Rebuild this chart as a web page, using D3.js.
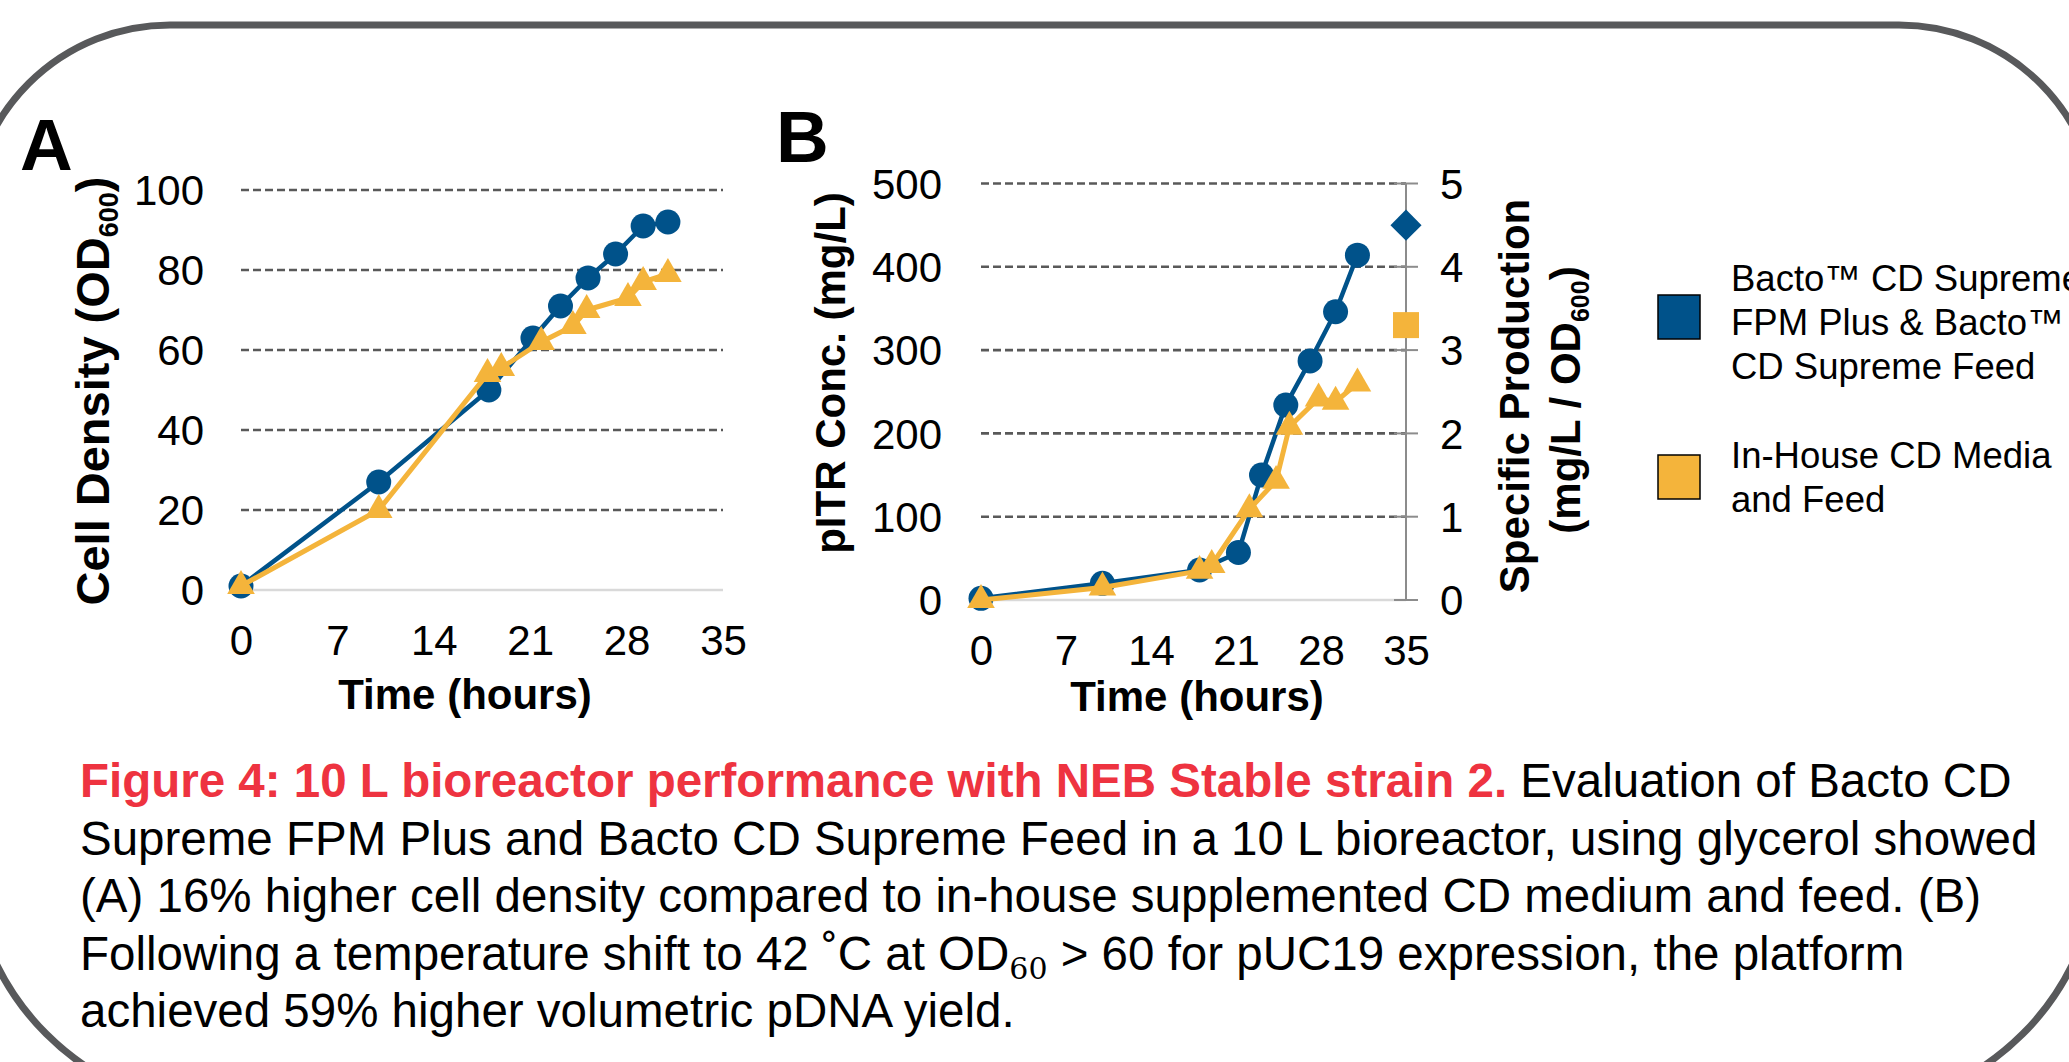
<!DOCTYPE html>
<html>
<head>
<meta charset="utf-8">
<script src="https://cdn.jsdelivr.net/npm/d3@7"></script>
<style>
  body { margin: 0; background: #fff; }
  svg { display: block; }
</style>
</head>
<body>
<svg id="fig" width="2069" height="1062"></svg>
<script>
// panel A - cell density (OD600) over time
const hoursA_bacto = [0, 10, 18, 21.2, 23.2, 25.2, 27.2, 29.2, 31];
const densityA_bacto = [1, 27, 50, 63, 71, 78, 84, 91, 92];
const hoursA_inhouse = [0, 10, 17.9, 18.9, 21.8, 24.1, 25.1, 28.1, 29.2, 31];
const densityA_inhouse = [1, 20, 54, 55.5, 62, 66, 70, 73, 77, 79];

// panel B - pITR concentration (mg/L) over time
const hoursB_bacto = [0, 10, 18, 21.2, 23.1, 25.1, 27.1, 29.2, 31];
const concB_bacto = [2, 20, 36, 57, 150, 234, 287, 346, 414];
const hoursB_inhouse = [0, 10, 18, 19, 22.1, 24.3, 25.4, 27.8, 29.2, 31];
const concB_inhouse = [0, 15, 35, 42, 109, 143, 208, 242, 238, 260];

// specific production at end of run, right axis of B
const specHour = 35;
const specProd = [4.5, 3.3]; // bacto, in-house

const seriesNames = [
  ["Bacto™ CD Supreme", "FPM Plus & Bacto™", "CD Supreme Feed"],
  ["In-House CD Media", "and Feed"]
];
const seriesColors = ["#00528a", "#f4b43b"];

const timeTicks = [0, 7, 14, 21, 28, 35];
const densityTicks = [0, 20, 40, 60, 80, 100];
const concTicks = [0, 100, 200, 300, 400, 500];
const specTicks = [0, 1, 2, 3, 4, 5];

const font = "'Liberation Sans', Arial, sans-serif";
const svg = d3.select("#fig").attr("font-family", font);

svg.append("rect").attr("width", 2069).attr("height", 1062).attr("fill", "#fff");

// rounded frame, runs off the page on both sides
const frame = d3.path();
frame.moveTo(170, 25);
frame.arcTo(2099, 25, 2099, 1110, 200);
frame.arcTo(2099, 1110, -30, 1110, 260);
frame.arcTo(-30, 1110, -30, 25, 260);
frame.arcTo(-30, 25, 2099, 25, 200);
frame.closePath();
svg.append("path").attr("d", frame.toString())
  .attr("fill", "none").attr("stroke", "#58595b").attr("stroke-width", 7);

function gridlines(x, y, ticks) {
  svg.append("g").selectAll("line")
    .data(ticks.filter(d => d > 0))
    .join("line")
    .attr("x1", x.range()[0]).attr("x2", x.range()[1])
    .attr("y1", d => y(d)).attr("y2", d => y(d))
    .attr("stroke", "#595959").attr("stroke-width", 2.6)
    .attr("stroke-dasharray", "8,4");
  svg.append("line")
    .attr("x1", x.range()[0]).attr("x2", x.range()[1])
    .attr("y1", y(0)).attr("y2", y(0))
    .attr("stroke", "#d9d9d9").attr("stroke-width", 2.5);
}

function cleanAxis(g) {
  g.attr("font-family", font).attr("font-size", 42);
  g.select(".domain").remove();
  g.selectAll(".tick line").remove();
  g.selectAll(".tick text").attr("fill", "#000");
}

function series(x, y, hours, vals, color, shape, width) {
  const pts = hours.map((h, i) => [x(h), y(vals[i])]);
  const g = svg.append("g");
  g.append("path").datum(pts)
    .attr("d", d3.line())
    .attr("fill", "none").attr("stroke", color)
    .attr("stroke-width", width).attr("stroke-linejoin", "round");
  if (shape === "circle") {
    g.selectAll("circle").data(pts).join("circle")
      .attr("cx", d => d[0]).attr("cy", d => d[1]).attr("r", 12.5)
      .attr("fill", color);
  } else {
    g.selectAll(".tri").data(pts).join("path")
      .attr("class", "tri")
      .attr("transform", d => `translate(${d[0]},${d[1]})`)
      .attr("d", d3.symbol(d3.symbolTriangle, 330))
      .attr("fill", color);
  }
}

function title(x, y, rotate, parts, size, sub) {
  const t = svg.append("text")
    .attr("transform", `translate(${x},${y})` + (rotate ? " rotate(-90)" : ""))
    .attr("text-anchor", "middle").attr("font-weight", "bold")
    .attr("font-size", size).attr("fill", "#000");
  t.append("tspan").text(parts[0]);
  if (parts.length > 1) {
    t.append("tspan").attr("font-size", sub).attr("dy", sub * 0.35).text(parts[1]);
    t.append("tspan").attr("dy", -sub * 0.35).text(parts[2]);
  }
}

// ---------- panel A ----------
const xA = d3.scaleLinear().domain([0, 35]).range([241, 723]);
const yA = d3.scaleLinear().domain([0, 100]).range([590, 190]);

gridlines(xA, yA, densityTicks);

svg.append("g").attr("transform", `translate(${xA(0)},0)`)
  .call(d3.axisLeft(yA).tickValues(densityTicks).tickSize(0).tickPadding(37))
  .call(cleanAxis)
  .selectAll(".tick text").attr("dy", "0.35em");

svg.append("g").attr("transform", `translate(0,${yA(0)})`)
  .call(d3.axisBottom(xA).tickValues(timeTicks).tickSize(0).tickPadding(35))
  .call(cleanAxis);

series(xA, yA, hoursA_bacto, densityA_bacto, seriesColors[0], "circle", 4.5);
series(xA, yA, hoursA_inhouse, densityA_inhouse, seriesColors[1], "triangle", 5);

title(465, 709, false, ["Time (hours)"], 42);
title(109, 391, true, ["Cell Density (OD", "600", ")"], 47, 27);

svg.append("text").attr("x", 20).attr("y", 170)
  .attr("font-size", 73).attr("font-weight", "bold").text("A");

// ---------- panel B ----------
const xB = d3.scaleLinear().domain([0, 35]).range([981, 1406]);
const yB = d3.scaleLinear().domain([0, 500]).range([600, 183.5]);
const yB2 = d3.scaleLinear().domain([0, 5]).range([600, 183.5]);

gridlines(xB, yB, concTicks);

// right axis line with crossing ticks
svg.append("line")
  .attr("x1", xB(35)).attr("x2", xB(35))
  .attr("y1", yB2(0)).attr("y2", yB2(5))
  .attr("stroke", "#8c8c8c").attr("stroke-width", 2);
svg.append("g").selectAll("line")
  .data(specTicks).join("line")
  .attr("x1", xB(35) - 12).attr("x2", xB(35) + 12)
  .attr("y1", d => yB2(d)).attr("y2", d => yB2(d))
  .attr("stroke", "#8c8c8c").attr("stroke-width", 2);

svg.append("g").attr("transform", `translate(${xB(0)},0)`)
  .call(d3.axisLeft(yB).tickValues(concTicks).tickSize(0).tickPadding(39))
  .call(cleanAxis)
  .selectAll(".tick text").attr("dy", "0.35em");

svg.append("g").attr("transform", `translate(${xB(35)},0)`)
  .call(d3.axisRight(yB2).tickValues(specTicks).tickFormat(d3.format("d")).tickSize(0).tickPadding(34))
  .call(cleanAxis)
  .selectAll(".tick text").attr("dy", "0.35em");

svg.append("g").attr("transform", `translate(0,${yB(0)})`)
  .call(d3.axisBottom(xB).tickValues(timeTicks).tickSize(0).tickPadding(35))
  .call(cleanAxis);

series(xB, yB, hoursB_bacto, concB_bacto, seriesColors[0], "circle", 4.5);
series(xB, yB, hoursB_inhouse, concB_inhouse, seriesColors[1], "triangle", 5);

// specific production markers
svg.append("path")
  .attr("transform", `translate(${xB(specHour)},${yB2(specProd[0])}) rotate(45)`)
  .attr("d", d3.symbol(d3.symbolSquare, 484))
  .attr("fill", seriesColors[0]);
svg.append("path")
  .attr("transform", `translate(${xB(specHour)},${yB2(specProd[1])})`)
  .attr("d", d3.symbol(d3.symbolSquare, 676))
  .attr("fill", seriesColors[1]);

title(1197, 711, false, ["Time (hours)"], 42);
title(845, 373, true, ["pITR Conc. (mg/L)"], 42);
title(1529, 396, true, ["Specific Production"], 42);
title(1580, 400, true, ["(mg/L / OD", "600", ")"], 42, 25);

svg.append("text").attr("x", 776).attr("y", 162)
  .attr("font-size", 73).attr("font-weight", "bold").text("B");

// ---------- legend ----------
const legendTop = [295, 455];
const legendBase = [291, 468];
seriesNames.forEach((lines, i) => {
  svg.append("rect")
    .attr("x", 1658).attr("y", legendTop[i]).attr("width", 42).attr("height", 44)
    .attr("fill", seriesColors[i]).attr("stroke", "#000").attr("stroke-width", 1.5);
  svg.append("g").selectAll("text").data(lines).join("text")
    .attr("x", 1731).attr("y", (d, j) => legendBase[i] + j * 44)
    .attr("font-size", 36.5).attr("fill", "#000")
    .text(d => d);
});

// ---------- caption ----------
const captionLines = [
  [["Figure 4: 10 L bioreactor performance with NEB Stable strain 2.", "red"], [" Evaluation of Bacto CD"]],
  [["Supreme FPM Plus and Bacto CD Supreme Feed in a 10 L bioreactor, using glycerol showed"]],
  [["(A) 16% higher cell density compared to in-house supplemented CD medium and feed. (B)"]],
  [["Following a temperature shift to 42 ˚C at OD"], ["60", "sub"], [" > 60 for pUC19 expression, the platform"]],
  [["achieved 59% higher volumetric pDNA yield."]]
];
captionLines.forEach((parts, i) => {
  const t = svg.append("text")
    .attr("x", 80).attr("y", 797 + i * 57.5)
    .attr("font-size", 47.5).attr("fill", "#000");
  let shifted = false;
  parts.forEach(p => {
    const s = t.append("tspan").text(p[0]);
    if (p[1] === "red") s.attr("fill", "#ee3340").attr("font-weight", "bold");
    if (p[1] === "sub") {
      s.attr("font-family", "'DejaVu Serif', serif").attr("font-size", 30).attr("dy", 9);
      shifted = true;
    } else if (shifted) {
      s.attr("dy", -9);
      shifted = false;
    }
  });
});
</script>
</body>
</html>
